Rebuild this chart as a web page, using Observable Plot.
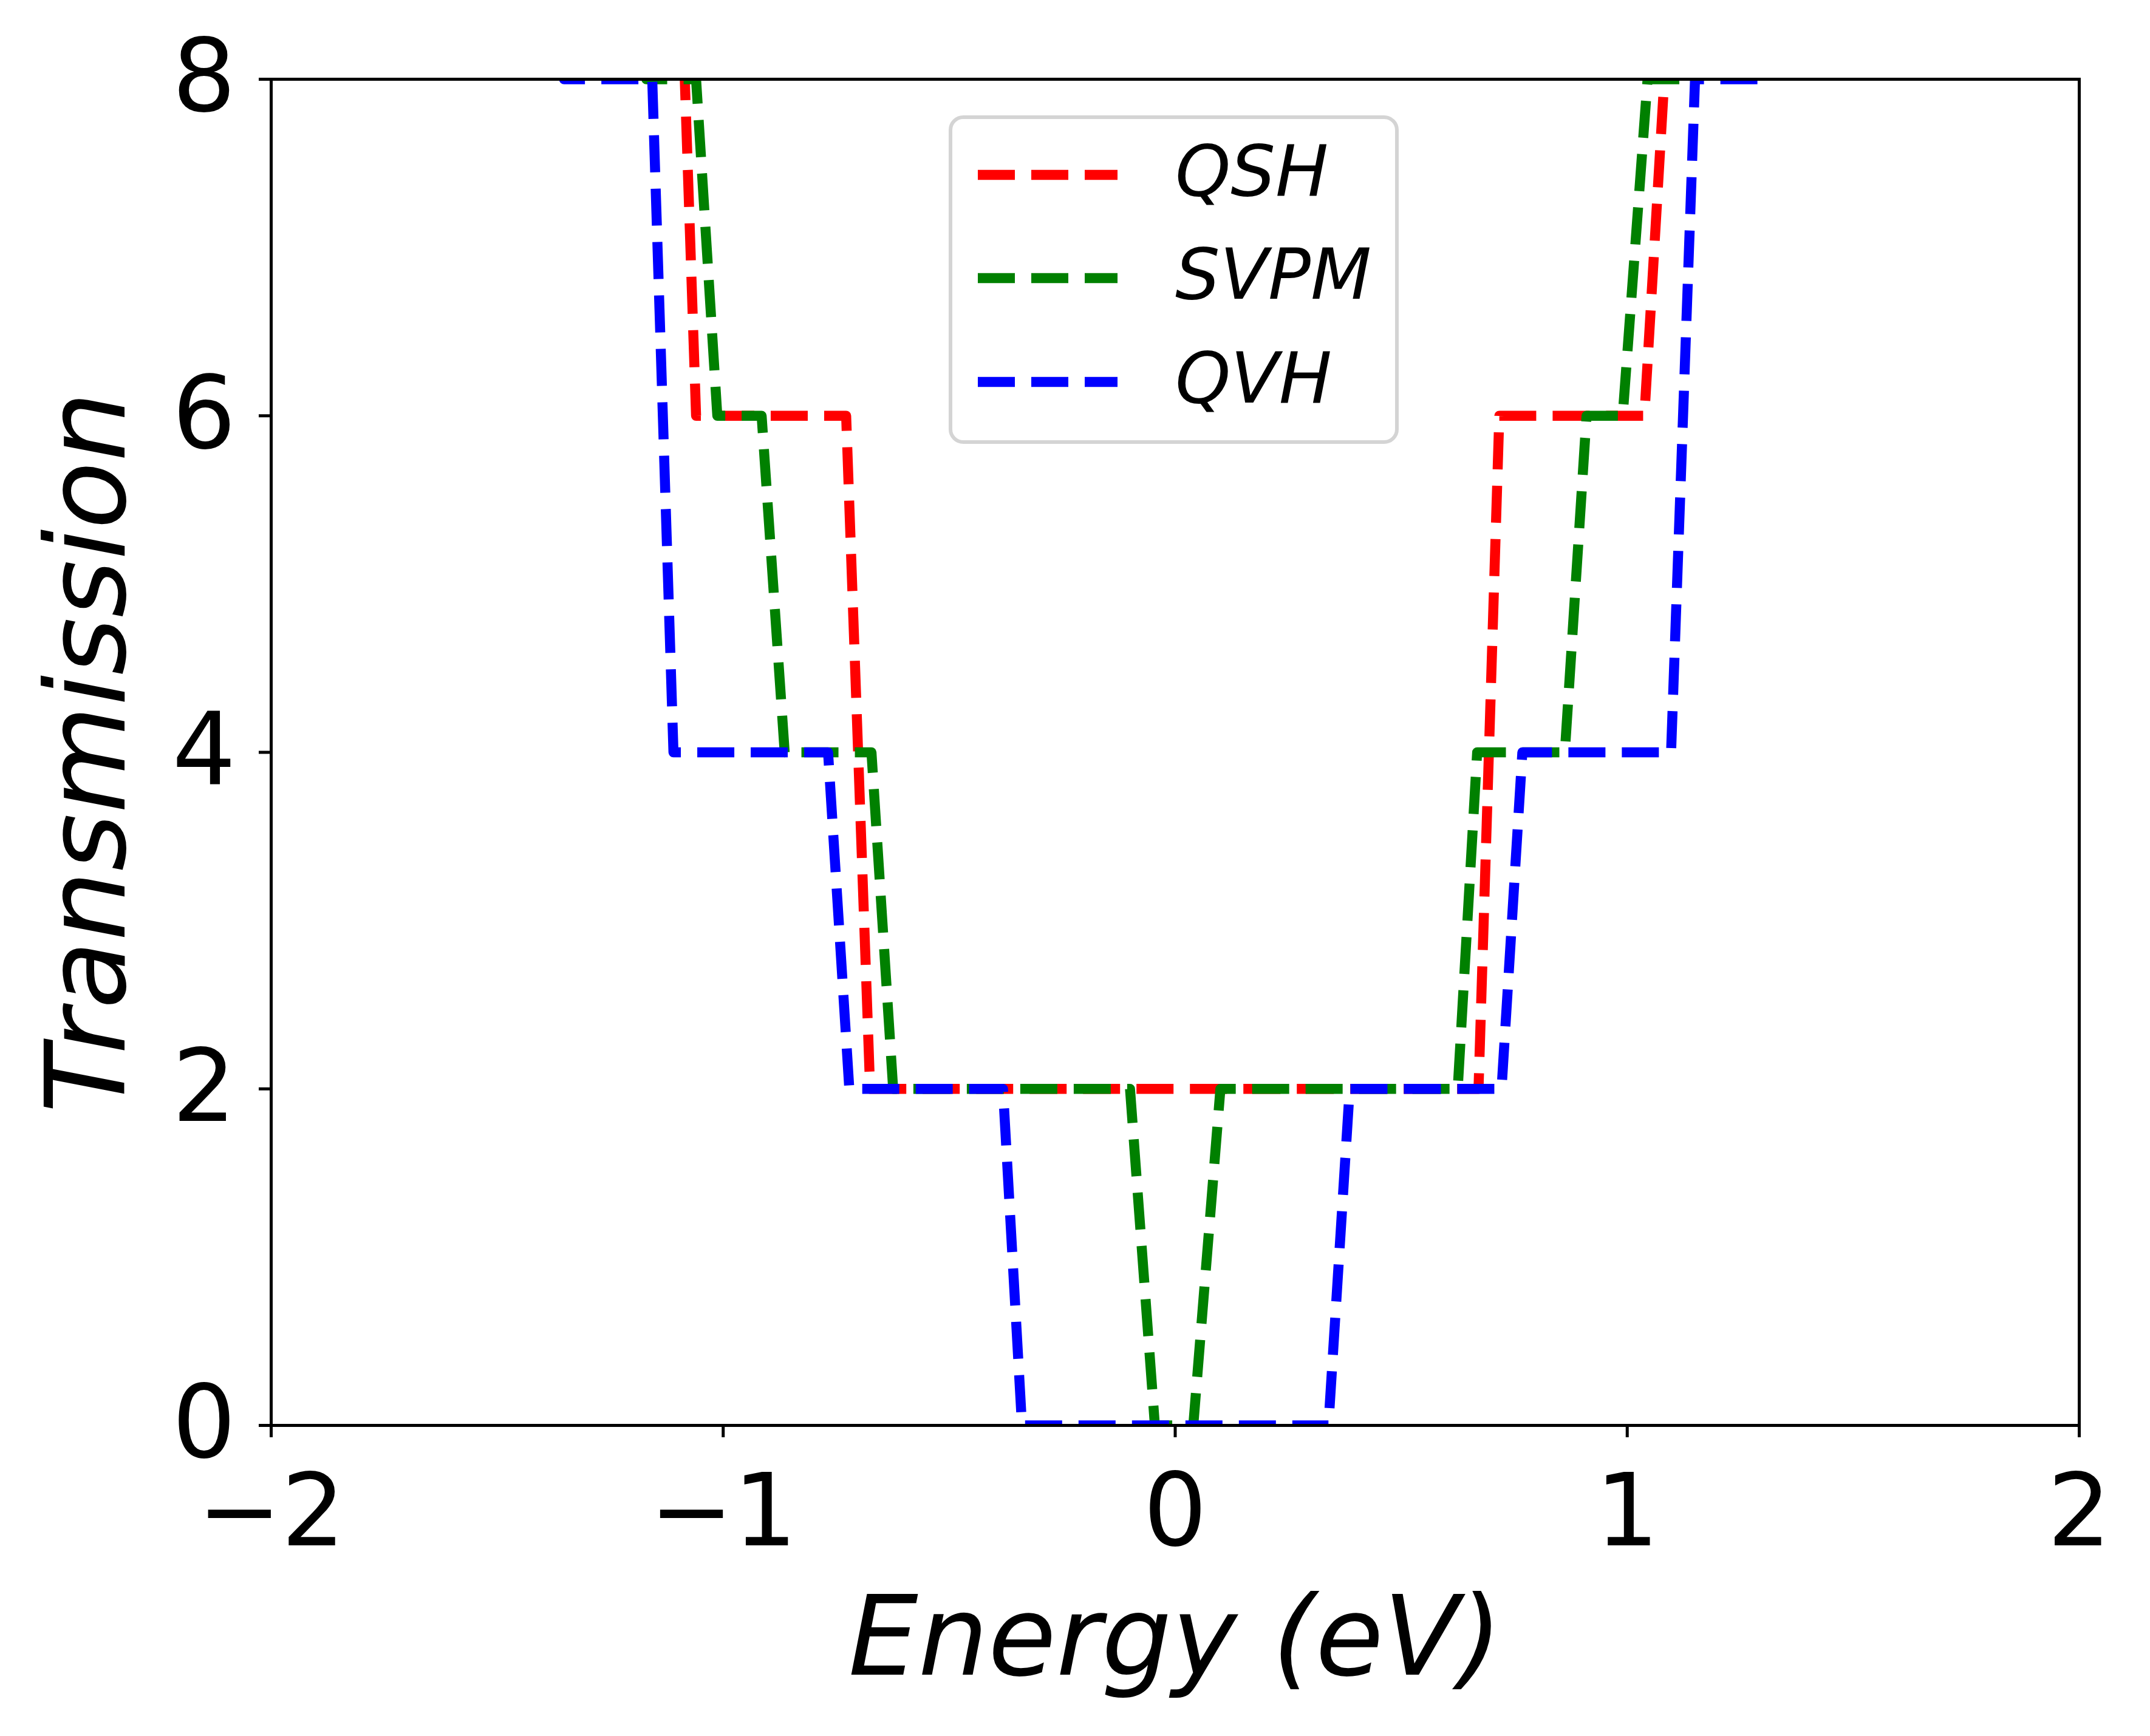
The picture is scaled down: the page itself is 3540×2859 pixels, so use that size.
<!DOCTYPE html>
<html>
<head>
<meta charset="utf-8">
<script src="https://cdn.jsdelivr.net/npm/d3@7"></script>
<script src="https://cdn.jsdelivr.net/npm/@observablehq/plot@0.6"></script>
<style>
  html, body { margin: 0; padding: 0; background: #fff; }
  #wrap { position: relative; width: 3540px; height: 2859px; font-family: "DejaVu Sans", sans-serif; }
  #legend { position: absolute; left: 1562px; top: 190px; width: 729px; height: 529px;
            border: 6px solid #d4d4d4; border-radius: 24px; background: rgba(255,255,255,0.8); box-sizing: content-box; }
  .row { position: absolute; left: 0; height: 0; }
  .row svg { position: absolute; left: 42px; top: -10px; }
  .row span { position: absolute; left: 367px; top: -64px; font-size: 116px; font-style: italic; font-family: "DejaVu Sans", sans-serif; white-space: nowrap; line-height: 1; }
</style>
</head>
<body>
<div id="wrap"></div>
<script>
// ---- data ----
const seriesNames = ["QSH", "SVPM", "QVH"];
const seriesColors = ["#ff0000", "#008000", "#0000ff"];

const qshE = [-1.11, -1.06, -0.728, -0.675, 0.671, 0.717, 1.038, 1.082, 1.105];
const qshT = [10, 6, 6, 2, 2, 6, 6, 8, 10];

const svpmE = [-1.2, -1.17, -1.06, -1.013, -0.915, -0.864, -0.672, -0.624, -0.1, -0.045, 0.04, 0.1, 0.625, 0.668, 0.862, 0.91, 0.99, 1.045, 1.122, 1.15];
const svpmT = [10, 8, 8, 6, 6, 4, 4, 2, 2, 0, 0, 2, 2, 4, 4, 6, 6, 8, 8, 10];

const qvhE = [-1.38, -1.352, -1.157, -1.11, -0.768, -0.721, -0.381, -0.339, 0.339, 0.386, 0.722, 0.768, 1.097, 1.15, 1.322, 1.35];
const qvhT = [10, 8, 8, 4, 4, 2, 2, 0, 0, 2, 2, 4, 4, 8, 8, 10];

const xTicks = [-2, -1, 0, 1, 2];
const yTicks = [0, 2, 4, 6, 8];
const xLabel = "Energy (eV)";
const yLabel = "Transmission";

// ---- build table ----
const energies = [qshE, svpmE, qvhE];
const trans = [qshT, svpmT, qvhT];
const rows = [];
seriesNames.forEach((name, i) => {
  energies[i].forEach((e, j) => rows.push({series: name, E: e, T: trans[i][j]}));
});

const W = 3540, H = 2859;
const LW = 16.5, DASH = "61,27";

const chart = Plot.plot({
  width: W,
  height: H,
  marginLeft: 446,
  marginRight: 117,
  marginTop: 130,
  marginBottom: 512,
  style: {fontFamily: "DejaVu Sans, sans-serif", fontSize: "165px", color: "black", background: "white"},
  x: {domain: [-2, 2]},
  y: {domain: [0, 8]},
  marks: [
    ...seriesNames.map((name, i) =>
      Plot.line(rows.filter(d => d.series === name), {
        x: "E", y: "T", stroke: seriesColors[i], strokeWidth: LW,
        strokeDasharray: DASH, strokeLinecap: "butt", strokeLinejoin: "round",
        clip: true
      })
    ),
    Plot.frame({stroke: "black", strokeWidth: 5}),
    Plot.axisX({ticks: xTicks, tickSize: 20, tickPadding: 60, strokeWidth: 5, label: null, fontSize: 165,
                tickFormat: d => d < 0 ? "\u2212" + Math.abs(d) : String(d)}),
    Plot.axisY({ticks: yTicks, tickSize: 20, tickPadding: 38, strokeWidth: 5, label: null, fontSize: 165}),
    Plot.text([xLabel], {frameAnchor: "bottom", dy: 352, fontSize: 182, fontStyle: "italic", lineAnchor: "middle", textAnchor: "middle", text: d => d}),
    Plot.text([yLabel], {frameAnchor: "left", dx: -300, rotate: -90, fontSize: 182, fontStyle: "italic", lineAnchor: "middle", textAnchor: "middle", text: d => d})
  ]
});

const wrap = document.getElementById("wrap");
wrap.appendChild(chart);

// ---- legend ----
const legend = document.createElement("div");
legend.id = "legend";
const rowTops = [92, 262, 433];
seriesNames.forEach((name, i) => {
  const r = document.createElement("div");
  r.className = "row";
  r.style.top = rowTops[i] + "px";
  r.innerHTML = `<svg width="240" height="20"><line x1="0" x2="230" y1="10" y2="10" stroke="${seriesColors[i]}" stroke-width="${LW}" stroke-dasharray="${DASH}"/></svg><span>${name}</span>`;
  legend.appendChild(r);
});
wrap.appendChild(legend);
</script>
</body>
</html>
